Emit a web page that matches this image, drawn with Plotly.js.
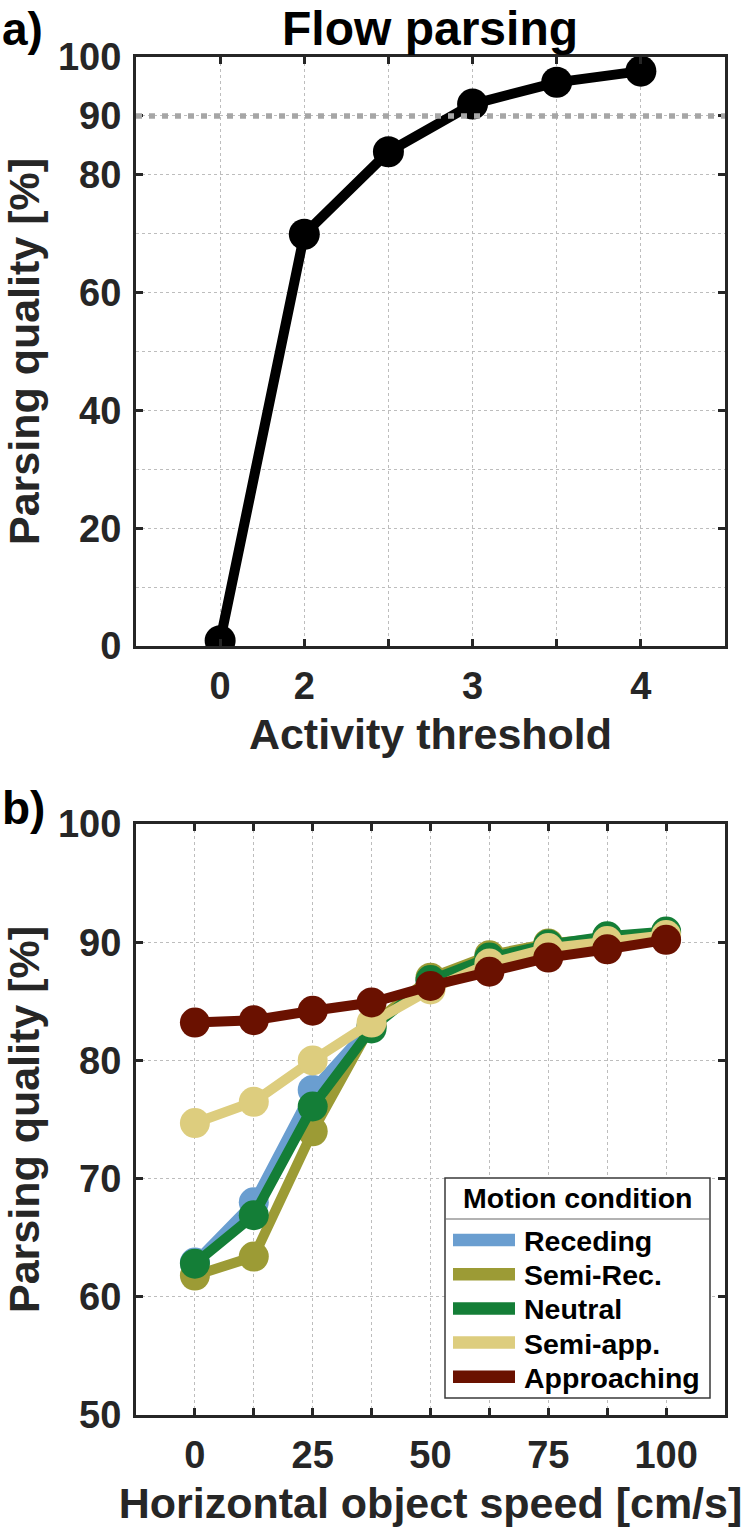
<!DOCTYPE html>
<html>
<head>
<meta charset="utf-8">
<script src="https://cdn.plot.ly/plotly-3.0.1.min.js"></script>
<style>html,body{margin:0;padding:0;background:#fff;}#chart{width:744px;height:1529px;}</style>
</head>
<body>
<div id="chart"></div>
<script>
// ---- Panel a) data ----
const thresholds = [0, 2, 2.5, 3, 3.5, 4];
const thresholdTickText = ['0', '2', '', '3', '', '4'];
const flowQuality = [0.9, 69.9, 83.9, 92.0, 95.7, 97.6];
const criterionLevel = 90;
const qualityTicksA = [0, 20, 40, 60, 80, 90, 100];
const qualityMinorA = [10, 30, 50, 70];

// ---- Panel b) data ----
const speeds = [0, 12.5, 25, 37.5, 50, 62.5, 75, 87.5, 100];
const speedTickText = ['0', '', '25', '', '50', '', '75', '', '100'];
const conditions = ['Receding', 'Semi-Rec.', 'Neutral', 'Semi-app.', 'Approaching'];
const receding    = [62.9, 68.0, 77.5, 83.0, 86.8, 88.8, 89.8, 90.4, 90.8];
const semiRec     = [61.8, 63.4, 74.0, 83.0, 87.0, 88.9, 89.9, 90.4, 90.8];
const neutral     = [62.8, 66.9, 76.1, 82.7, 86.8, 88.7, 89.8, 90.5, 90.9];
const semiApp     = [74.7, 76.5, 80.0, 83.2, 86.0, 88.2, 89.5, 90.1, 90.6];
const approaching = [83.2, 83.4, 84.2, 84.9, 86.3, 87.5, 88.7, 89.4, 90.2];
const conditionColors = ['#6a9ed0', '#9c9b35', '#147e37', '#ddcd7e', '#6a1100'];
const qualityTicksB = [50, 60, 70, 80, 90, 100];
const legendTitle = 'Motion condition';

const seriesB = [receding, semiRec, neutral, semiApp, approaching];

const W = 744, H = 1529;
const FONT = 'Liberation Sans, Arial, Helvetica, sans-serif';
const AX = '#262626';
const GRID = '#bdbdbd';

// each threshold sits on an evenly spaced slot of the axis
const thresholdSlots = thresholds.map((_, i) => i);

const traces = [];
traces.push({
  x: thresholdSlots, y: flowQuality, xaxis: 'x', yaxis: 'y',
  mode: 'lines+markers', showlegend: false, name: 'Flow parsing',
  line: {color: '#000000', width: 10},
  marker: {color: '#000000', size: 31},
  hoverinfo: 'skip'
});
seriesB.forEach((vals, k) => {
  traces.push({
    x: speeds, y: vals, xaxis: 'x2', yaxis: 'y2',
    mode: 'lines+markers', showlegend: false, name: conditions[k],
    line: {color: conditionColors[k], width: 10},
    marker: {color: conditionColors[k], size: 30},
    hoverinfo: 'skip'
  });
});

const px = v => v / W;
const py = v => 1 - v / H;

const tickFont = {family: FONT, size: 38, color: AX, weight: 'bold'};
const titleFont = {family: FONT, size: 43, color: AX, weight: 'bold'};

const baseAxis = {
  showline: true, linewidth: 3, linecolor: AX, mirror: 'ticks',
  ticks: 'inside', ticklen: 7, tickwidth: 3, tickcolor: AX,
  showgrid: true, gridcolor: GRID, gridwidth: 1, griddash: 'dot',
  zeroline: false, tickfont: tickFont, automargin: false, fixedrange: true
};

// ---- legend box (panel b) ----
const LG = {x0: 445, x1: 710, y0: 1178, y1: 1398, sep: 1219, titleY: 1198,
            firstY: 1240, step: 34.2, swX0: 453, swX1: 515, textX: 522};
const shapes = [
  {type: 'line', xref: 'x domain', yref: 'y', x0: 0, x1: 1, y0: criterionLevel, y1: criterionLevel,
   line: {color: '#a6a6a6', width: 5.5, dash: '6px,7px'}, layer: 'above'},
  {type: 'rect', xref: 'paper', yref: 'paper', x0: px(LG.x0), x1: px(LG.x1), y0: py(LG.y1), y1: py(LG.y0),
   fillcolor: '#ffffff', line: {color: '#3a3a3a', width: 1.5}, layer: 'above'},
  {type: 'line', xref: 'paper', yref: 'paper', x0: px(LG.x0), x1: px(LG.x1), y0: py(LG.sep), y1: py(LG.sep),
   line: {color: '#666666', width: 1.2}, layer: 'above'}
];
const annotations = [
  {text: 'Flow parsing', xref: 'paper', yref: 'paper', x: px(430), y: py(28),
   xanchor: 'center', yanchor: 'middle', showarrow: false,
   font: {family: FONT, size: 48, color: '#000000', weight: 'bold'}},
  {text: 'a)', xref: 'paper', yref: 'paper', x: 0, y: py(1), xanchor: 'left', yanchor: 'top',
   showarrow: false, font: {family: FONT, size: 46, color: '#000000', weight: 'bold'}},
  {text: 'b)', xref: 'paper', yref: 'paper', x: 0, y: py(780), xanchor: 'left', yanchor: 'top',
   showarrow: false, font: {family: FONT, size: 46, color: '#000000', weight: 'bold'}},
  {text: legendTitle, xref: 'paper', yref: 'paper', x: px((LG.x0 + LG.x1) / 2), y: py(LG.titleY),
   xanchor: 'center', yanchor: 'middle', showarrow: false,
   font: {family: FONT, size: 28.5, color: '#000000', weight: 'bold'}}
];
conditions.forEach((name, k) => {
  const yc = LG.firstY + k * LG.step;
  shapes.push({type: 'line', xref: 'paper', yref: 'paper', x0: px(LG.swX0), x1: px(LG.swX1),
    y0: py(yc), y1: py(yc), line: {color: conditionColors[k], width: 12.5}, layer: 'above'});
  annotations.push({text: name, xref: 'paper', yref: 'paper', x: px(LG.textX), y: py(yc + 1),
    xanchor: 'left', yanchor: 'middle', showarrow: false,
    font: {family: FONT, size: 28.5, color: '#000000', weight: 'bold'}});
});

const layout = {
  width: W, height: H,
  margin: {l: 0, r: 0, t: 0, b: 0},
  paper_bgcolor: '#ffffff', plot_bgcolor: '#ffffff',
  showlegend: false,
  xaxis: Object.assign({}, baseAxis, {
    domain: [px(136), px(725)], anchor: 'y', range: [-1, 6],
    tickmode: 'array', tickvals: thresholdSlots, ticktext: thresholdTickText,
    ticklabelstandoff: 4,
    title: {text: 'Activity threshold', font: titleFont, standoff: 14}
  }),
  yaxis: Object.assign({}, baseAxis, {
    domain: [py(646), py(57)], anchor: 'x', range: [0, 100],
    tickmode: 'array', tickvals: qualityTicksA,
    minor: {tickvals: qualityMinorA, showgrid: true, gridcolor: GRID, gridwidth: 1, griddash: 'dot', ticks: ''},
    ticklabelstandoff: 4,
    title: {text: 'Parsing quality [%]', font: titleFont, standoff: 14}
  }),
  xaxis2: Object.assign({}, baseAxis, {
    domain: [px(136), px(725)], anchor: 'y2', range: [-12.5, 112.5],
    tickmode: 'array', tickvals: speeds, ticktext: speedTickText,
    ticklabelstandoff: 4,
    title: {text: 'Horizontal object speed [cm/s]', font: titleFont, standoff: 14}
  }),
  yaxis2: Object.assign({}, baseAxis, {
    domain: [py(1415), py(824)], anchor: 'x2', range: [50, 100],
    tickmode: 'array', tickvals: qualityTicksB,
    ticklabelstandoff: 4,
    title: {text: 'Parsing quality [%]', font: titleFont, standoff: 14}
  }),
  shapes: shapes,
  annotations: annotations
};

Plotly.newPlot('chart', traces, layout, {displayModeBar: false, staticPlot: true});
</script>
</body>
</html>
